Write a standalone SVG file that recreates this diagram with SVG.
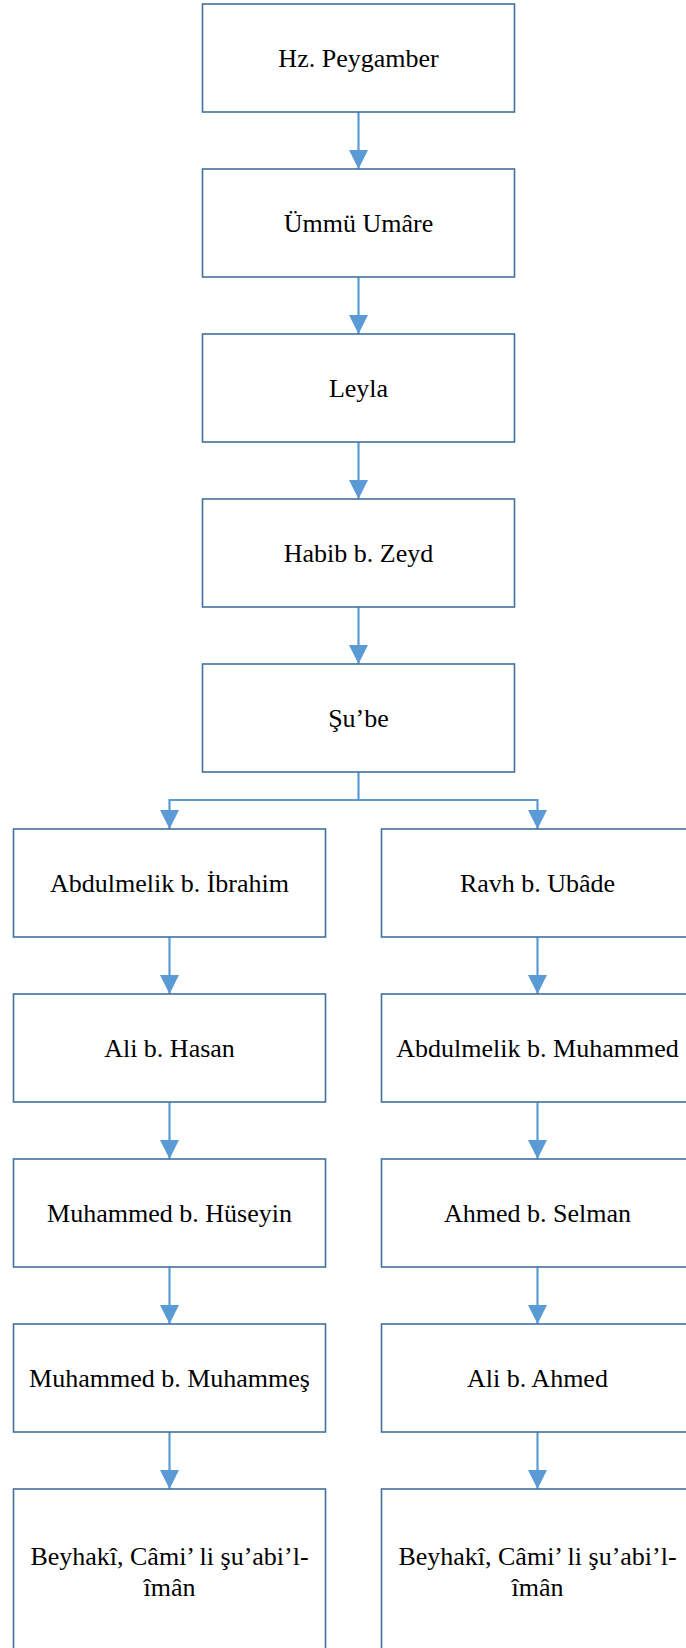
<svg xmlns="http://www.w3.org/2000/svg" width="686" height="1648" viewBox="0 0 686 1648">
<style>
.box{fill:#ffffff;stroke:#41719C;stroke-width:1.6}
.lbl{font-family:"Liberation Serif","Times New Roman",serif;font-size:26px;fill:#000;text-anchor:middle}
.con{fill:none;stroke:#5B9BD5;stroke-width:2.2}
</style>
<defs>
<marker id="arr" markerUnits="userSpaceOnUse" markerWidth="19" markerHeight="19" viewBox="0 0 18 18" refX="18" refY="9" orient="auto">
<path d="M0,0 L18,9 L0,18 z" fill="#5B9BD5"/>
</marker>
</defs>
<rect width="686" height="1648" fill="#ffffff"/>
<g id="connectors">
<line class="con" x1="358.5" y1="112" x2="358.5" y2="169" marker-end="url(#arr)"/>
<line class="con" x1="358.5" y1="277" x2="358.5" y2="334" marker-end="url(#arr)"/>
<line class="con" x1="358.5" y1="442" x2="358.5" y2="499" marker-end="url(#arr)"/>
<line class="con" x1="358.5" y1="607" x2="358.5" y2="664" marker-end="url(#arr)"/>
<polyline class="con" points="358.5,772 358.5,800 169.5,800 169.5,829" marker-end="url(#arr)"/>
<polyline class="con" points="358.5,800 537.5,800 537.5,829" marker-end="url(#arr)"/>
<line class="con" x1="169.5" y1="937" x2="169.5" y2="994" marker-end="url(#arr)"/>
<line class="con" x1="169.5" y1="1102" x2="169.5" y2="1159" marker-end="url(#arr)"/>
<line class="con" x1="169.5" y1="1267" x2="169.5" y2="1324" marker-end="url(#arr)"/>
<line class="con" x1="169.5" y1="1432" x2="169.5" y2="1489" marker-end="url(#arr)"/>
<line class="con" x1="537.5" y1="937" x2="537.5" y2="994" marker-end="url(#arr)"/>
<line class="con" x1="537.5" y1="1102" x2="537.5" y2="1159" marker-end="url(#arr)"/>
<line class="con" x1="537.5" y1="1267" x2="537.5" y2="1324" marker-end="url(#arr)"/>
<line class="con" x1="537.5" y1="1432" x2="537.5" y2="1489" marker-end="url(#arr)"/>
</g>
<g id="n1"><rect class="box" x="202.5" y="4" width="312" height="108"/><text class="lbl" x="358.5" y="67">Hz. Peygamber</text></g>
<g id="n2"><rect class="box" x="202.5" y="169" width="312" height="108"/><text class="lbl" x="358.5" y="232">Ümmü Umâre</text></g>
<g id="n3"><rect class="box" x="202.5" y="334" width="312" height="108"/><text class="lbl" x="358.5" y="397">Leyla</text></g>
<g id="n4"><rect class="box" x="202.5" y="499" width="312" height="108"/><text class="lbl" x="358.5" y="562">Habib b. Zeyd</text></g>
<g id="n5"><rect class="box" x="202.5" y="664" width="312" height="108"/><text class="lbl" x="358.5" y="727">Şu’be</text></g>
<g id="l1"><rect class="box" x="13.5" y="829" width="312" height="108"/><text class="lbl" x="169.5" y="892">Abdulmelik b. İbrahim</text></g>
<g id="l2"><rect class="box" x="13.5" y="994" width="312" height="108"/><text class="lbl" x="169.5" y="1057">Ali b. Hasan</text></g>
<g id="l3"><rect class="box" x="13.5" y="1159" width="312" height="108"/><text class="lbl" x="169.5" y="1222">Muhammed b. Hüseyin</text></g>
<g id="l4"><rect class="box" x="13.5" y="1324" width="312" height="108"/><text class="lbl" x="169.5" y="1387">Muhammed b. Muhammeş</text></g>
<g id="l5"><rect class="box" x="13.5" y="1489" width="312" height="180"/><text class="lbl" x="169.5" y="1565">Beyhakî, Câmi’ li şu’abi’l-</text><text class="lbl" x="169.5" y="1596">îmân</text></g>
<g id="r1"><rect class="box" x="381.5" y="829" width="312" height="108"/><text class="lbl" x="537.5" y="892">Ravh b. Ubâde</text></g>
<g id="r2"><rect class="box" x="381.5" y="994" width="312" height="108"/><text class="lbl" x="537.5" y="1057">Abdulmelik b. Muhammed</text></g>
<g id="r3"><rect class="box" x="381.5" y="1159" width="312" height="108"/><text class="lbl" x="537.5" y="1222">Ahmed b. Selman</text></g>
<g id="r4"><rect class="box" x="381.5" y="1324" width="312" height="108"/><text class="lbl" x="537.5" y="1387">Ali b. Ahmed</text></g>
<g id="r5"><rect class="box" x="381.5" y="1489" width="312" height="180"/><text class="lbl" x="537.5" y="1565">Beyhakî, Câmi’ li şu’abi’l-</text><text class="lbl" x="537.5" y="1596">îmân</text></g>
</svg>
